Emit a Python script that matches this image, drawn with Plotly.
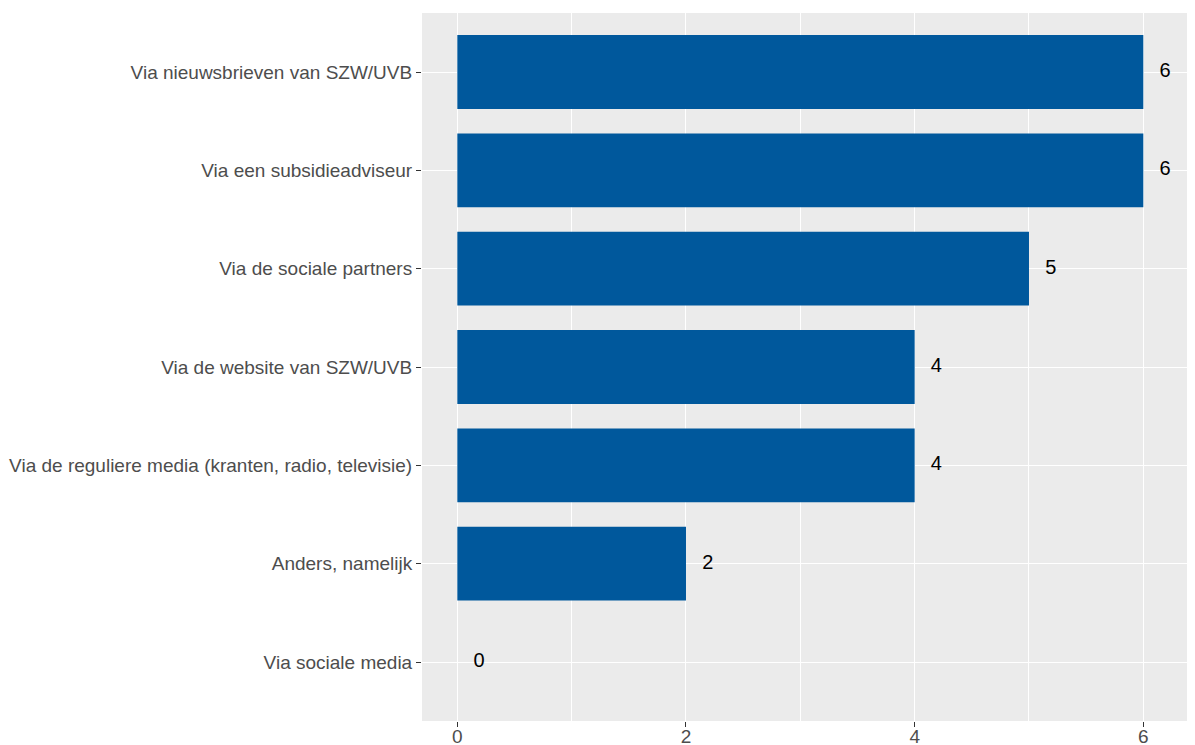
import plotly.graph_objects as go

categories = [
    "Via nieuwsbrieven van SZW/UVB",
    "Via een subsidieadviseur",
    "Via de sociale partners",
    "Via de website van SZW/UVB",
    "Via de reguliere media (kranten, radio, televisie)",
    "Anders, namelijk",
    "Via sociale media",
]
values = [6, 6, 5, 4, 4, 2, 0]
x_ticks = [0, 2, 4, 6]

label_offset = 0.19

fig = go.Figure()
fig.add_trace(go.Bar(
    x=values, y=categories, orientation="h",
    marker=dict(color="#00589C", line=dict(width=0)),
    width=0.75, hoverinfo="x+y",
))
fig.add_trace(go.Scatter(
    x=[v + label_offset for v in values], y=categories,
    mode="text", text=[str(v) for v in values],
    textposition="middle center",
    textfont=dict(family="Liberation Sans, Arial", size=20, color="#000000"),
    hoverinfo="skip", cliponaxis=False,
))

fig.update_layout(
    width=1187, height=737,
    margin=dict(l=414, r=0, t=5, b=24),
    paper_bgcolor="white", plot_bgcolor="#EBEBEB",
    showlegend=False,
    font=dict(family="Liberation Sans, Arial", size=19, color="#4D4D4D"),
)
fig.update_xaxes(
    range=[-0.309, 6.452], tickvals=x_ticks, ticktext=[str(t) for t in x_ticks],
    showgrid=True, gridcolor="white", gridwidth=1.2,
    minor=dict(dtick=1, tick0=1, showgrid=True, gridcolor="white", gridwidth=0.6),
    zeroline=False, ticks="outside", ticklen=5, tickcolor="#333333", tickwidth=1.1,
    ticklabelstandoff=-7,
    tickfont=dict(size=19, color="#4D4D4D"), showline=False, automargin=False,
)
fig.update_yaxes(
    categoryorder="array", categoryarray=categories[::-1],
    range=[-0.6, 6.6],
    showgrid=True, gridcolor="white", gridwidth=1.2, zeroline=False,
    ticks="outside", ticklen=5, tickcolor="#333333", tickwidth=1.1,
    tickfont=dict(size=19, color="#4D4D4D"), showline=False, automargin=False,
)

fig.write_html("out.html")
